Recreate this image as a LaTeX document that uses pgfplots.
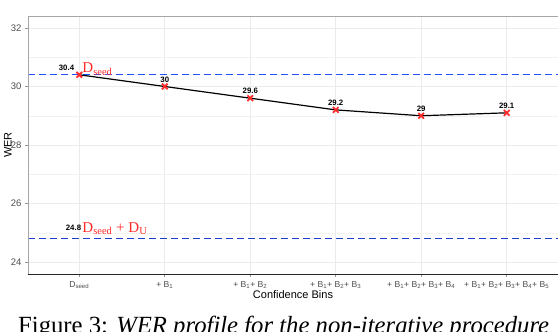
\documentclass[border=0pt]{standalone}
\usepackage{fontspec}
\setmainfont{Liberation Serif}
\setsansfont{Liberation Sans}
\usepackage{pgfplots}
\pgfplotsset{compat=1.18}
\definecolor{ggred}{HTML}{FF2A2A}
\definecolor{ggblue}{HTML}{1F4FFF}
\definecolor{gggrid}{HTML}{EBEBEB}
\definecolor{ggtext}{HTML}{4D4D4D}

\begin{document}
\begin{tikzpicture}[x=1pt,y=1pt]
\useasboundingbox (0,0) rectangle (560,332);
\clip (0,0) rectangle (560,332);
\begin{axis}[
  at={(28pt,58pt)}, anchor=south west,
  width=530pt, height=258pt, scale only axis,
  xmin=-0.6, xmax=5.6, ymin=23.59, ymax=32.41,
  xtick={0,...,5},
  xticklabels={D\textsubscript{seed}, + B\textsubscript{1}, + B\textsubscript{1}+ B\textsubscript{2},
    + B\textsubscript{1}+ B\textsubscript{2}+ B\textsubscript{3},
    + B\textsubscript{1}+ B\textsubscript{2}+ B\textsubscript{3}+ B\textsubscript{4},
    + B\textsubscript{1}+ B\textsubscript{2}+ B\textsubscript{3}+ B\textsubscript{4}+ B\textsubscript{5}},
  ytick={24,26,28,30,32}, minor ytick={25,27,29,31},
  grid=both,
  major grid style={gggrid, line width=0.7pt},
  minor grid style={gggrid!70, line width=0.4pt},
  axis line style={draw=none},
  xtick pos=bottom, ytick pos=left,
  tick align=outside, major tick length=3pt, minor tick length=0pt,
  major tick style={ggtext!60, line width=0.6pt},
  /pgf/number format/assume math mode=true,
  yticklabel style={font=\sffamily\fontsize{9.5}{11}\selectfont, text=ggtext},
  xticklabel style={font=\sffamily\fontsize{8.6}{10}\selectfont, text=ggtext, yshift=-1pt},
  xlabel={Confidence Bins}, ylabel={WER},
  label style={font=\sffamily\fontsize{11}{13}\selectfont},
  xlabel style={at={(axis description cs:0.5,-0.078)}, anchor=center},
  ylabel style={at={(axis description cs:-0.038,0.5)}, anchor=center, rotate=0},
  clip=false,
]
% reference lines
\addplot[ggblue, line width=1.4pt, dash pattern=on 7pt off 4pt] coordinates {(-0.6,30.4) (5.6,30.4)};
\addplot[ggblue!80!black, line width=0.9pt, dash pattern=on 7pt off 4pt] coordinates {(-0.6,24.8) (5.6,24.8)};
% WER profile
\addplot[black, line width=1.2pt, mark=x, mark size=4pt,
  mark options={ggred, line width=1.8pt}] coordinates {
  (0,30.4) (1,30.0) (2,29.6) (3,29.2) (4,29.0) (5,29.1)
};
% point labels
\tikzset{vl/.style={font=\sffamily\bfseries\fontsize{7.8}{9}\selectfont, inner sep=0pt}}
\node[vl, anchor=south east] at ([shift={(-5pt,4pt)}]axis cs:0,30.4) {30.4};
\node[vl, anchor=south] at ([shift={(0pt,4pt)}]axis cs:1,30.0) {30};
\node[vl, anchor=south] at ([shift={(0pt,4pt)}]axis cs:2,29.6) {29.6};
\node[vl, anchor=south] at ([shift={(0pt,4pt)}]axis cs:3,29.2) {29.2};
\node[vl, anchor=south] at ([shift={(0pt,4pt)}]axis cs:4,29.0) {29};
\node[vl, anchor=south] at ([shift={(0pt,4pt)}]axis cs:5,29.1) {29.1};
\node[vl, anchor=south east] at ([shift={(2pt,8pt)}]axis cs:0,24.8) {24.8};
\node[anchor=base west, inner sep=0pt, text=ggred, font=\fontsize{15}{17}\selectfont]
  at ([shift={(3pt,2pt)}]axis cs:0,30.4) {D\textsubscript{seed}};
\node[anchor=base west, inner sep=0pt, text=ggred, font=\fontsize{15}{17}\selectfont]
  at ([shift={(3pt,6pt)}]axis cs:0,24.8) {D\textsubscript{seed} + D\textsubscript{U}};
% panel border
\draw[gray!70, line width=0.8pt] (rel axis cs:0,0) -- (rel axis cs:0,1) -- (rel axis cs:1,1);
\draw[black!85, line width=0.8pt] (rel axis cs:0,0) -- (rel axis cs:1,0);
\end{axis}
\node[anchor=base west, inner sep=0pt, font=\fontsize{24.7}{28}\selectfont] at (18,-2)
  {Figure 3: \textit{WER profile for the non-iterative procedure}};
\end{tikzpicture}
\end{document}
